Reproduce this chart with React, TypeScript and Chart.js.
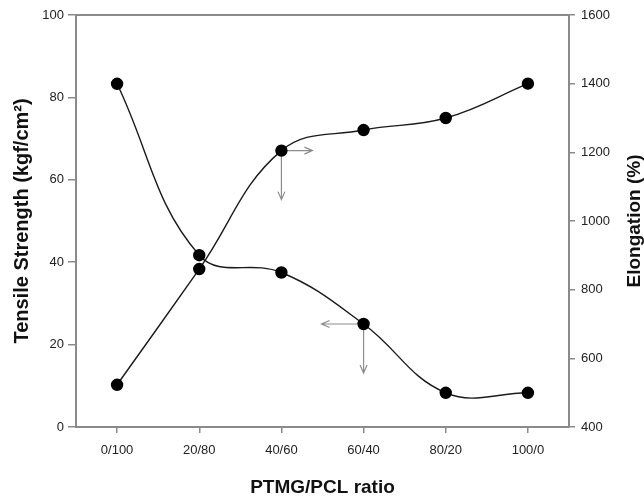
import React, { useEffect, useRef } from 'react';
import { Chart, registerables } from 'chart.js';
Chart.register(...registerables);

const categories = ['0/100', '20/80', '40/60', '60/40', '80/20', '100/0'];
const tensileStrength = [83.3, 41.7, 37.5, 25.0, 8.3, 8.3];
const elongation = [523, 860, 1205, 1265, 1300, 1400];
const leftTicks = [0, 20, 40, 60, 80, 100];
const rightTicks = [400, 600, 800, 1000, 1200, 1400, 1600];
const xTitle = 'PTMG/PCL ratio';
const leftTitle = 'Tensile Strength (kgf/cm\u00B2)';
const rightTitle = 'Elongation (%)';
// arrows pointing from a data point to its axis: [series index, point index, direction]
const arrowSeries = [1, 1, 0, 0];
const arrowPoints = [2, 2, 3, 3];
const arrowDirs = ['right', 'down', 'left', 'down'];

const ARROW_LEN: Record<string, number> = { right: 31, left: 42, down: 49 };
const AXIS_COLOR = '#8a8a8a';
const FONT = "'Liberation Sans', Arial, sans-serif";

const decorPlugin = {
  id: 'decor',
  beforeDatasetsDraw(chart: any) {
    const ctx = chart.ctx;
    ctx.save();
    ctx.strokeStyle = '#8c8c8c';
    ctx.lineWidth = 1.2;
    arrowDirs.forEach((dir, i) => {
      const pt = chart.getDatasetMeta(arrowSeries[i]).data[arrowPoints[i]];
      if (!pt) return;
      const x0 = pt.x, y0 = pt.y;
      const L = ARROW_LEN[dir];
      let x1 = x0, y1 = y0;
      if (dir === 'right') x1 = x0 + L;
      if (dir === 'left') x1 = x0 - L;
      if (dir === 'down') y1 = y0 + L;
      ctx.beginPath();
      ctx.moveTo(x0, y0);
      ctx.lineTo(x1, y1);
      const h = 8, w = 3.5;
      if (dir === 'right') {
        ctx.moveTo(x1 - h, y1 - w); ctx.lineTo(x1, y1); ctx.lineTo(x1 - h, y1 + w);
      } else if (dir === 'left') {
        ctx.moveTo(x1 + h, y1 - w); ctx.lineTo(x1, y1); ctx.lineTo(x1 + h, y1 + w);
      } else {
        ctx.moveTo(x1 - w, y1 - h); ctx.lineTo(x1, y1); ctx.lineTo(x1 + w, y1 - h);
      }
      ctx.stroke();
    });
    ctx.restore();
  },
  afterDraw(chart: any) {
    const ctx = chart.ctx;
    const a = chart.chartArea;
    ctx.save();
    // top frame line
    ctx.strokeStyle = AXIS_COLOR;
    ctx.lineWidth = 2;
    ctx.beginPath();
    ctx.moveTo(a.left, a.top);
    ctx.lineTo(a.right, a.top);
    ctx.stroke();
    // titles
    ctx.fillStyle = '#111';
    ctx.font = `bold 19px ${FONT}`;
    ctx.textAlign = 'center';
    ctx.textBaseline = 'middle';
    const cy = (a.top + a.bottom) / 2;
    ctx.fillText(xTitle, (a.left + a.right) / 2, 488);
    ctx.save();
    ctx.translate(22, cy);
    ctx.rotate(-Math.PI / 2);
    ctx.font = `bold 20px ${FONT}`;
    ctx.fillText(leftTitle, 0, 0);
    ctx.restore();
    ctx.save();
    ctx.translate(635, cy);
    ctx.rotate(-Math.PI / 2);
    ctx.fillText(rightTitle, 0, 0);
    ctx.restore();
    ctx.restore();
  },
};

export default function App() {
  const ref = useRef<HTMLCanvasElement>(null);
  useEffect(() => {
    document.body.style.margin = '0';
    const chart = new Chart(ref.current!, {
      type: 'line',
      data: {
        labels: categories,
        datasets: [
          {
            label: 'Tensile Strength',
            data: tensileStrength,
            yAxisID: 'y',
            borderColor: '#1a1a1a',
            borderWidth: 1.4,
            tension: 0.4,
            pointRadius: 5.5,
            pointBackgroundColor: '#000',
            pointBorderColor: '#000',
            clip: false as any,
          },
          {
            label: 'Elongation',
            data: elongation,
            yAxisID: 'y2',
            borderColor: '#1a1a1a',
            borderWidth: 1.4,
            tension: 0.4,
            pointRadius: 5.5,
            pointBackgroundColor: '#000',
            pointBorderColor: '#000',
            clip: false as any,
          },
        ],
      },
      options: {
        animation: false,
        responsive: true,
        maintainAspectRatio: false,
        layout: { padding: { top: 15, left: 0, right: 0, bottom: 0 } },
        plugins: { legend: { display: false }, tooltip: { enabled: false } },
        scales: {
          x: {
            type: 'category',
            offset: true,
            grid: { drawOnChartArea: false, offset: false, tickLength: 6, color: AXIS_COLOR, lineWidth: 1.5 },
            border: { display: true, color: AXIS_COLOR, width: 2 },
            ticks: { color: '#222', font: { family: FONT, size: 13 }, padding: 10, maxRotation: 0 },
            afterFit: (s: any) => { s.height = 75; },
          },
          y: {
            type: 'linear',
            position: 'left',
            min: 0,
            max: 100,
            afterBuildTicks: (s: any) => { s.ticks = leftTicks.map((v) => ({ value: v })); },
            grid: { drawOnChartArea: false, tickLength: 8, color: AXIS_COLOR, lineWidth: 1.5 },
            border: { display: true, color: AXIS_COLOR, width: 2 },
            ticks: { color: '#222', font: { family: FONT, size: 13 }, padding: 4, callback: (v: any) => String(v) },
            afterFit: (s: any) => { s.width = 76; },
          },
          y2: {
            type: 'linear',
            position: 'right',
            min: 400,
            max: 1600,
            afterBuildTicks: (s: any) => { s.ticks = rightTicks.map((v) => ({ value: v })); },
            grid: { drawOnChartArea: false, tickLength: 6, color: AXIS_COLOR, lineWidth: 1.5 },
            border: { display: true, color: AXIS_COLOR, width: 2 },
            ticks: { color: '#222', font: { family: FONT, size: 13 }, padding: 6, callback: (v: any) => String(v) },
            afterFit: (s: any) => { s.width = 75; },
          },
        },
      },
      plugins: [decorPlugin],
    });
    return () => chart.destroy();
  }, []);
  return (
    <div style={{ width: 644, height: 502, position: 'relative', background: '#fff' }}>
      <canvas ref={ref} />
    </div>
  );
}
